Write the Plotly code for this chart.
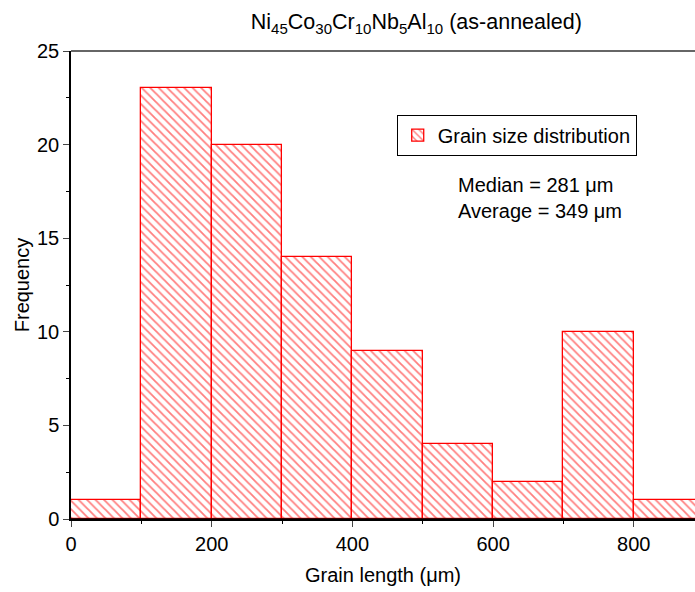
import plotly.graph_objects as go

bin_left = [0, 100, 200, 300, 400, 500, 600, 700, 800]
bin_width = 100
counts = [1, 23, 20, 14, 9, 4, 2, 10, 1]
x_ticks = [0, 200, 400, 600, 800]
y_ticks = [0, 5, 10, 15, 20, 25]
series_name = "Grain size distribution"
notes = ["Median = 281 \u03bcm", "Average = 349 \u03bcm"]

centers = [b + bin_width / 2 for b in bin_left]

fig = go.Figure()
fig.add_trace(go.Bar(
    x=centers, y=counts, width=bin_width, name=series_name,
    marker=dict(color="white", line=dict(color="red", width=1.3),
                pattern=dict(shape="\\", fgcolor="red", bgcolor="white", size=6, solidity=0.3)),
    showlegend=True,
))

font = "Arial, Liberation Sans, sans-serif"
fig.update_layout(
    width=695, height=592,
    margin=dict(l=71, r=0, t=51, b=73),
    plot_bgcolor="white", paper_bgcolor="white",
    font=dict(family=font, size=20, color="black"),
    title=dict(text="Ni<sub>45</sub>Co<sub>30</sub>Cr<sub>10</sub>Nb<sub>5</sub>Al<sub>10</sub> (as-annealed)",
               x=0.599, xanchor="center", y=0.963, yanchor="middle", font=dict(size=21.5)),
    bargap=0,
    showlegend=True,
    legend=dict(x=0.522, y=0.864, xanchor="left", yanchor="top", bordercolor="black", borderwidth=1,
                bgcolor="white", font=dict(size=20), itemwidth=30, tracegroupgap=0),
    xaxis=dict(range=[0, 887], tickvals=x_ticks, ticks="outside", ticklen=6, tickwidth=1,
               showline=True, linecolor="black", linewidth=1.5, showgrid=False, zeroline=False,
               tickfont=dict(size=20),
               minor=dict(tickvals=[100, 300, 500, 700], ticks="outside", ticklen=3, tickcolor="black"),
               title=dict(text="Grain length (\u03bcm)", font=dict(size=20), standoff=14)),
    yaxis=dict(range=[0, 25], tickvals=y_ticks, ticks="outside", ticklen=6, tickwidth=1,
               showline=True, linecolor="black", linewidth=1.5, showgrid=False, zeroline=False,
               tickfont=dict(size=20),
               minor=dict(tickvals=[2.5, 7.5, 12.5, 17.5, 22.5], ticks="outside", ticklen=3, tickcolor="black"),
               title=dict(text="Frequency", font=dict(size=20), standoff=2)),
)
fig.add_shape(type="line", xref="paper", yref="paper", x0=0, x1=1, y0=1, y1=1,
              line=dict(color="#333", width=1.5))
fig.add_shape(type="line", xref="paper", yref="paper", x0=0, x1=1, y0=0, y1=0,
              line=dict(color="black", width=1.5), layer="above")
fig.add_annotation(text="<br>".join(notes), xref="paper", yref="paper", x=0.617, y=0.742,
                   xanchor="left", yanchor="top", showarrow=False, align="left",
                   font=dict(size=20))
fig.write_html("out.html")
